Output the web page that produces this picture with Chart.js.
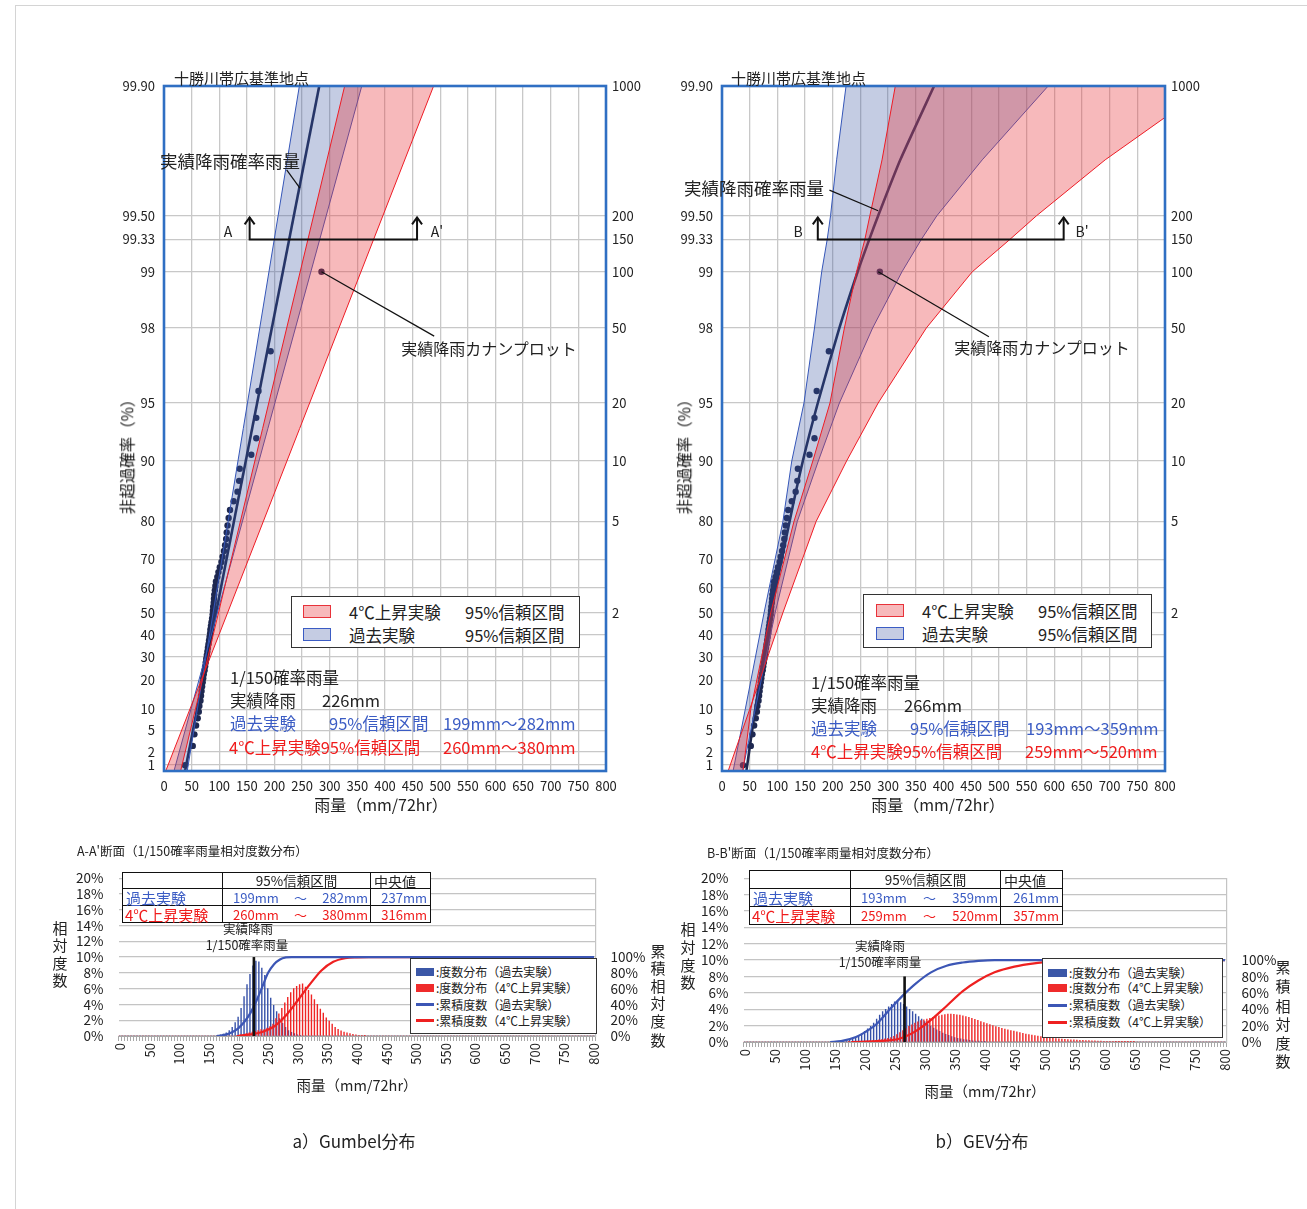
<!DOCTYPE html>
<html lang="ja">
<head>
<meta charset="utf-8">
<title>十勝川帯広基準地点 確率雨量と相対度数分布</title>
<script src="https://cdn.jsdelivr.net/npm/chart.js@4.4.1/dist/chart.umd.min.js"></script>
<style>
  html, body { margin: 0; padding: 0; background: #fff; }
  body { position: relative; width: 1307px; height: 1209px; overflow: hidden;
         font-family: "Noto Sans CJK JP", "Noto Sans", sans-serif; color: #222; }
  .frame { position: absolute; left: 15px; top: 5px; right: 0; bottom: 0;
           border-left: 1px solid #d4d4d4; border-top: 1px solid #d4d4d4; }
  canvas { position: absolute; }
  .t { position: absolute; white-space: nowrap; line-height: 1; transform: translateY(-50%); }
  .c { transform: translate(-50%, -50%); }
  .rot { transform: translate(-50%, -50%) rotate(-90deg); }
  .blue { color: #3b5cc4; }
  .red { color: #f01c1c; }
  .legend { position: absolute; background: #fff; border: 1.5px solid #333; box-sizing: border-box; }
  .sw { position: absolute; box-sizing: border-box; }
  table.tb { position: absolute; border-collapse: collapse; background: #fff; table-layout: fixed; }
  table.tb td { border: 1.6px solid #111; padding: 0; font-size: 13px; line-height: 1; white-space: nowrap; }
  .rng { display: flex; justify-content: space-between; padding: 0 2px 0 10px; }
  .stack { position: absolute; font-size: 15px; line-height: 1; transform: translate(-50%, -50%); }
</style>
</head>
<body>
<div class="frame"></div>

<canvas id="gumbel" width="560" height="770" style="left:100px;top:60px"></canvas>
<canvas id="gev" width="560" height="770" style="left:658px;top:60px"></canvas>
<canvas id="histA" width="620" height="240" style="left:40px;top:855px"></canvas>
<canvas id="histB" width="640" height="245" style="left:665px;top:855px"></canvas>

<!-- a) Gumbel -->
<div class="t" style="left:174px;top:77px;font-size:15px">十勝川帯広基準地点</div>
<div class="t rot" style="left:127px;top:453px;font-size:15.5px;color:#111">非超過確率（%）</div>
<div class="t c" style="left:381px;top:804px;font-size:16px">雨量（mm/72hr）</div>
<div class="t" style="left:160px;top:161px;font-size:17.5px">実績降雨確率雨量</div>
<div class="t c" style="left:228px;top:231px;font-size:14px">A</div>
<div class="t c" style="left:437px;top:231px;font-size:14px">A'</div>
<div class="t c" style="left:489px;top:348px;font-size:16px">実績降雨カナンプロット</div>
<div class="legend" style="left:291px;top:596px;width:289px;height:52px">
  <div class="sw" style="left:11px;top:8px;width:28px;height:13px;background:#f7b9bb;border:1.2px solid #e8323a"></div>
  <div class="t" style="left:57px;top:15px;font-size:16.5px">4℃上昇実験</div>
  <div class="t" style="left:173px;top:15px;font-size:16.5px">95%信頼区間</div>
  <div class="sw" style="left:11px;top:31px;width:28px;height:13px;background:#c5cce3;border:1.2px solid #3b5cc4"></div>
  <div class="t" style="left:57px;top:38px;font-size:16.5px">過去実験</div>
  <div class="t" style="left:173px;top:38px;font-size:16.5px">95%信頼区間</div>
</div>
<div class="t" style="left:230px;top:677px;font-size:16.5px">1/150確率雨量</div>
<div class="t" style="left:230px;top:700px;font-size:16.5px">実績降雨</div>
<div class="t" style="left:322px;top:700px;font-size:16.5px">226mm</div>
<div class="t blue" style="left:230px;top:723px;font-size:16.5px">過去実験</div>
<div class="t blue" style="left:329px;top:723px;font-size:16.5px">95%信頼区間</div>
<div class="t blue" style="left:443px;top:723px;font-size:16.5px">199mm～282mm</div>
<div class="t red" style="left:229px;top:747px;font-size:16.5px">4℃上昇実験95%信頼区間</div>
<div class="t red" style="left:443px;top:747px;font-size:16.5px">260mm～380mm</div>

<!-- b) GEV -->
<div class="t" style="left:731px;top:77px;font-size:15px">十勝川帯広基準地点</div>
<div class="t rot" style="left:684px;top:453px;font-size:15.5px;color:#111">非超過確率（%）</div>
<div class="t c" style="left:938px;top:804px;font-size:16px">雨量（mm/72hr）</div>
<div class="t" style="left:684px;top:188px;font-size:17.5px">実績降雨確率雨量</div>
<div class="t c" style="left:798px;top:231px;font-size:14px">B</div>
<div class="t c" style="left:1082px;top:231px;font-size:14px">B'</div>
<div class="t c" style="left:1042px;top:347px;font-size:16px">実績降雨カナンプロット</div>
<div class="legend" style="left:863px;top:594px;width:289px;height:54px">
  <div class="sw" style="left:12px;top:9px;width:28px;height:13px;background:#f7b9bb;border:1.2px solid #e8323a"></div>
  <div class="t" style="left:58px;top:16px;font-size:16.5px">4℃上昇実験</div>
  <div class="t" style="left:174px;top:16px;font-size:16.5px">95%信頼区間</div>
  <div class="sw" style="left:12px;top:32px;width:28px;height:13px;background:#c5cce3;border:1.2px solid #3b5cc4"></div>
  <div class="t" style="left:58px;top:39px;font-size:16.5px">過去実験</div>
  <div class="t" style="left:174px;top:39px;font-size:16.5px">95%信頼区間</div>
</div>
<div class="t" style="left:811px;top:682px;font-size:16.5px">1/150確率雨量</div>
<div class="t" style="left:811px;top:705px;font-size:16.5px">実績降雨</div>
<div class="t" style="left:904px;top:705px;font-size:16.5px">266mm</div>
<div class="t blue" style="left:811px;top:728px;font-size:16.5px">過去実験</div>
<div class="t blue" style="left:910px;top:728px;font-size:16.5px">95%信頼区間</div>
<div class="t blue" style="left:1026px;top:728px;font-size:16.5px">193mm～359mm</div>
<div class="t red" style="left:811px;top:751px;font-size:16.5px">4℃上昇実験95%信頼区間</div>
<div class="t red" style="left:1025px;top:751px;font-size:16.5px">259mm～520mm</div>

<!-- A-A' histogram -->
<div class="t" style="left:77px;top:851px;font-size:12.5px">A-A'断面（1/150確率雨量相対度数分布）</div>
<table class="tb" style="left:122px;top:872px;width:308px">
  <colgroup><col style="width:100px"><col style="width:148px"><col style="width:60px"></colgroup>
  <tr style="height:16px"><td></td><td style="text-align:center;font-size:13.5px">95%信頼区間</td><td style="font-size:14px;padding-left:3px">中央値</td></tr>
  <tr style="height:17px" class="blue"><td style="font-size:15px;padding-left:3px">過去実験</td><td><div class="rng"><span>199mm</span><span>～</span><span>282mm</span></div></td><td style="text-align:right;padding-right:3px">237mm</td></tr>
  <tr style="height:17px" class="red"><td style="font-size:15px;padding-left:2px">4℃上昇実験</td><td><div class="rng"><span>260mm</span><span>～</span><span>380mm</span></div></td><td style="text-align:right;padding-right:3px">316mm</td></tr>
</table>
<div class="t c" style="left:248px;top:929px;font-size:12.5px">実績降雨</div>
<div class="t c" style="left:247px;top:945px;font-size:12.5px">1/150確率雨量</div>
<div class="stack" style="left:60px;top:927px">相</div>
<div class="stack" style="left:60px;top:944px">対</div>
<div class="stack" style="left:60px;top:962px">度</div>
<div class="stack" style="left:60px;top:979px">数</div>
<div class="stack" style="left:658px;top:950px">累</div>
<div class="stack" style="left:658px;top:967px">積</div>
<div class="stack" style="left:658px;top:985px">相</div>
<div class="stack" style="left:658px;top:1002px">対</div>
<div class="stack" style="left:658px;top:1020px">度</div>
<div class="stack" style="left:658px;top:1039px">数</div>
<div class="t c" style="left:357px;top:1085px;font-size:14.5px">雨量（mm/72hr）</div>
<div class="legend" style="left:410px;top:958px;width:187px;height:76px;border-width:1.3px">
  <div class="sw" style="left:5px;top:9px;width:18px;height:8px;background:#3b57a7"></div>
  <div class="t" style="left:25px;top:13px;font-size:12px">:度数分布（過去実験）</div>
  <div class="sw" style="left:5px;top:25px;width:18px;height:8px;background:#ef2b2b"></div>
  <div class="t" style="left:25px;top:29px;font-size:12px">:度数分布（4℃上昇実験）</div>
  <div class="sw" style="left:5px;top:44px;width:18px;height:3px;background:#3c56b5"></div>
  <div class="t" style="left:25px;top:46px;font-size:12px">:累積度数（過去実験）</div>
  <div class="sw" style="left:5px;top:60px;width:18px;height:3px;background:#ee2020"></div>
  <div class="t" style="left:25px;top:62px;font-size:12px">:累積度数（4℃上昇実験）</div>
</div>

<!-- B-B' histogram -->
<div class="t" style="left:707px;top:853px;font-size:12.5px">B-B'断面（1/150確率雨量相対度数分布）</div>
<table class="tb" style="left:749px;top:870px;width:313px">
  <colgroup><col style="width:101px"><col style="width:150px"><col style="width:62px"></colgroup>
  <tr style="height:18px"><td></td><td style="text-align:center;font-size:13.5px">95%信頼区間</td><td style="font-size:14px;padding-left:3px">中央値</td></tr>
  <tr style="height:18px" class="blue"><td style="font-size:15px;padding-left:3px">過去実験</td><td><div class="rng"><span>193mm</span><span>～</span><span>359mm</span></div></td><td style="text-align:right;padding-right:3px">261mm</td></tr>
  <tr style="height:18px" class="red"><td style="font-size:15px;padding-left:2px">4℃上昇実験</td><td><div class="rng"><span>259mm</span><span>～</span><span>520mm</span></div></td><td style="text-align:right;padding-right:3px">357mm</td></tr>
</table>
<div class="t c" style="left:880px;top:946px;font-size:12.5px">実績降雨</div>
<div class="t c" style="left:880px;top:962px;font-size:12.5px">1/150確率雨量</div>
<div class="stack" style="left:688px;top:928px">相</div>
<div class="stack" style="left:688px;top:946px">対</div>
<div class="stack" style="left:688px;top:964px">度</div>
<div class="stack" style="left:688px;top:981px">数</div>
<div class="stack" style="left:1283px;top:966px">累</div>
<div class="stack" style="left:1283px;top:985px">積</div>
<div class="stack" style="left:1283px;top:1005px">相</div>
<div class="stack" style="left:1283px;top:1023px">対</div>
<div class="stack" style="left:1283px;top:1042px">度</div>
<div class="stack" style="left:1283px;top:1060px">数</div>
<div class="t c" style="left:985px;top:1091px;font-size:14.5px">雨量（mm/72hr）</div>
<div class="legend" style="left:1042px;top:958px;width:181px;height:80px;border-width:1.3px">
  <div class="sw" style="left:5px;top:10px;width:19px;height:8px;background:#3b57a7"></div>
  <div class="t" style="left:26px;top:14px;font-size:12px">:度数分布（過去実験）</div>
  <div class="sw" style="left:5px;top:25px;width:19px;height:8px;background:#ef2b2b"></div>
  <div class="t" style="left:26px;top:29px;font-size:12px">:度数分布（4℃上昇実験）</div>
  <div class="sw" style="left:5px;top:45px;width:19px;height:3px;background:#3c56b5"></div>
  <div class="t" style="left:26px;top:46px;font-size:12px">:累積度数（過去実験）</div>
  <div class="sw" style="left:5px;top:62px;width:19px;height:3px;background:#ee2020"></div>
  <div class="t" style="left:26px;top:63px;font-size:12px">:累積度数（4℃上昇実験）</div>
</div>

<div class="t c" style="left:354px;top:1140px;font-size:17px">a）Gumbel分布</div>
<div class="t c" style="left:982px;top:1140px;font-size:17px">b）GEV分布</div>

<script>
// === 1. DATA ===
// probability axis (non-exceedance %, Gumbel paper) and return period labels
const probTicks = [99.9, 99.5, 99.33, 99, 98, 95, 90, 80, 70, 60, 50, 40, 30, 20, 10, 5, 2, 1];
const probLabels = ['99.90', '99.50', '99.33', '99', '98', '95', '90', '80', '70', '60', '50', '40', '30', '20', '10', '5', '2', '1'];
const returnP = [99.9, 99.5, 99.33, 99, 98, 95, 90, 80, 50];
const returnLabels = ['1000', '200', '150', '100', '50', '20', '10', '5', '2'];

// observed annual max rainfall (mm/72hr) with Cunnane plotting positions (%)
const obsP = [1.0, 2.66, 4.32, 5.98, 7.64, 9.30, 10.96, 12.62, 14.29, 15.95,
  17.61, 19.27, 20.93, 22.59, 24.25, 25.91, 27.57, 29.24, 30.90, 32.56,
  34.22, 35.88, 37.54, 39.20, 40.86, 42.52, 44.19, 45.85, 47.51, 49.17,
  50.83, 52.49, 54.15, 55.81, 57.48, 59.14, 60.80, 62.46, 64.12, 65.78,
  67.44, 69.10, 70.76, 72.43, 74.09, 75.75, 77.41, 79.07, 80.73, 82.39,
  84.05, 85.71, 87.38, 89.04, 90.70, 92.36, 94.02, 95.68, 97.34, 99.0];
const obsRain = [38, 52, 55, 58, 61, 63, 64, 66, 67, 68,
  69, 70, 71, 72, 73.5, 74.5, 75.5, 76.5, 77.5, 78.5,
  79.5, 80.5, 81.5, 82.5, 83.5, 84, 85, 86, 87, 88,
  88.5, 89, 90, 90.5, 91, 92, 93, 94, 96.5, 98.5,
  101, 104, 106, 108.5, 110.5, 112.5, 113.5, 115, 117, 119.5,
  126, 133, 136, 137, 158, 167, 167, 171, 193, 285];

// a) Gumbel: straight lines on Gumbel paper, given at the bottom and top of the axis
const gumP = [0.7, 99.9];
const gumFit = [38, 281];
const gumPastA = [42, 245];
const gumPastB = [18, 358];
const gumWarmA = [30, 327];
const gumWarmB = [3, 488];

// b) GEV: curved lines
const gevP = [0.7, 10, 50, 80, 90, 95, 98, 99, 99.33, 99.5, 99.75, 99.9];
const gevFit = [44, 60, 89, 122, 146, 173, 212, 245, 266, 282, 322, 383];
const gevPastA = [20, 42, 76, 110, 126, 148, 167, 180, 190, 196, 207, 224];
const gevPastB = [37, 60, 96, 136, 174, 212, 272, 325, 360, 388, 470, 589];
const gevWarmA = [38, 52, 88, 130, 164, 195, 221, 243, 258, 267, 289, 313];
const gevWarmB = [11, 50, 110, 170, 225, 282, 369, 452, 520, 568, 692, 880];

// relative frequency (%) per 5 mm bin, starting at the given bin
const aaPastStart = 165;
const aaPastFreq = [0.1, 0.15, 0.25, 0.4, 0.7, 1.1, 1.7, 2.4, 3.5, 5.0, 6.5, 7.8, 8.9, 9.5, 9.4,
  8.6, 7.7, 6.0, 4.8, 3.9, 3.1, 2.2, 1.6, 1.1, 0.7, 0.45, 0.3, 0.15, 0.1];
const aaWarmStart = 200;
const aaWarmFreq = [0.1, 0.15, 0.2, 0.3, 0.4, 0.5, 0.6, 0.7, 0.8, 0.8, 1.0, 1.2, 1.5, 2.2, 2.8,
  3.5, 4.2, 4.9, 5.5, 6.0, 6.3, 6.5, 6.6, 6.2, 5.8, 5.2, 4.6, 4.0, 3.4, 2.9,
  2.3, 1.9, 1.5, 1.1, 0.85, 0.65, 0.5, 0.4, 0.3, 0.2, 0.15, 0.1, 0.08, 0.05];
const bbPastStart = 150;
const bbPastFreq = [0.05, 0.08, 0.1, 0.15, 0.2, 0.3, 0.4, 0.55, 0.75, 1.0, 1.3, 1.6, 1.9, 2.3, 2.8,
  3.3, 3.7, 4.0, 4.3, 4.6, 4.9, 5.0, 4.8, 4.6, 4.3, 4.0, 3.7, 3.4, 3.1, 2.8,
  2.5, 2.2, 1.95, 1.7, 1.5, 1.3, 1.1, 0.95, 0.8, 0.65, 0.55, 0.45, 0.38, 0.3, 0.25,
  0.2, 0.15, 0.12, 0.1, 0.08, 0.05];
const bbWarmStart = 175;
const bbWarmFreq = [0.02, 0.03, 0.04, 0.05, 0.07, 0.09, 0.11, 0.14, 0.17, 0.2, 0.25, 0.3, 0.38, 0.45, 0.55,
  0.7, 0.9, 1.15, 1.4, 1.65, 1.9, 2.1, 2.3, 2.45, 2.6, 2.7, 2.8, 2.9, 3.0, 3.1,
  3.2, 3.28, 3.35, 3.4, 3.4, 3.37, 3.33, 3.28, 3.2, 3.1, 3.0, 2.9, 2.78, 2.65, 2.5,
  2.38, 2.25, 2.12, 2.0, 1.88, 1.78, 1.68, 1.58, 1.5, 1.4, 1.32, 1.24, 1.15, 1.06, 0.98,
  0.9, 0.83, 0.77, 0.71, 0.65, 0.6, 0.55, 0.5, 0.46, 0.42, 0.39, 0.36, 0.33, 0.3, 0.27,
  0.25, 0.23, 0.21, 0.2, 0.18, 0.16, 0.15, 0.13, 0.12, 0.1, 0.09, 0.08, 0.07, 0.06, 0.05,
  0.05, 0.04, 0.04, 0.03, 0.03, 0.02];

// cumulative relative frequency (%)
const aaPastCumX = [163, 170, 180, 190, 200, 210, 220, 230, 240, 250, 260, 270, 280, 290, 800];
const aaPastCumY = [0, 0.5, 2, 5, 10, 18, 29, 44, 62, 80, 91, 97, 99.5, 100, 100];
const aaWarmCumX = [197, 210, 220, 240, 260, 280, 300, 320, 340, 360, 380, 400, 420, 800];
const aaWarmCumY = [0, 1, 2, 5, 12, 26, 45, 65, 83, 94, 98.5, 99.7, 100, 100];
const bbPastCumX = [142, 160, 185, 200, 218, 244, 262, 284, 310, 336, 363, 389, 416, 800];
const bbPastCumY = [0, 1, 6, 12, 21, 42, 56, 71, 85, 93, 97, 99, 100, 100];
const bbWarmCumX = [178, 220, 257, 284, 310, 336, 363, 389, 416, 449, 482, 515, 548, 613, 800];
const bbWarmCumY = [0, 1, 4, 13, 27, 44, 62, 75, 85, 92, 96, 98, 99, 100, 100];

// 1/150 rainfall of the actual event (mm/72hr)
const rainA = 226;
const rainB = 266;

// === 2. HELPERS ===
const FONT = '"Noto Sans CJK JP", "Noto Sans", sans-serif';
Chart.defaults.font.family = FONT;
Chart.defaults.color = '#222';
const NAVY = '#1e2850';
const FRAME = '#2f6fc3';

// Gumbel reduced variate for the probability paper
const gy = p => -Math.log(-Math.log(p / 100));
const Y_MIN = -1.6;
const Y_MAX = gy(99.9);

const curve = (p, xs) => p.map((v, i) => ({ x: xs[i], y: gy(v) }));
function band(p, a, b) {
  const pts = curve(p, a);
  for (let i = p.length - 1; i >= 0; i--) pts.push({ x: b[i], y: gy(p[i]) });
  return pts;
}

// 5 mm bins 0..800
const histBins = [];
for (let b = 0; b <= 800; b += 5) histBins.push(b);
const padBins = (start, vals) => histBins.map(b => {
  const i = (b - start) / 5;
  return i >= 0 && i < vals.length ? vals[i] : 0;
});
const cumLine = (xs, ys) => xs.map((x, i) => ({ x, y: ys[i] }));

// === 3. PROBABILITY PLOTS ===
function probDecor(cfg) {
  return {
    id: 'probDecor',
    afterDatasetsDraw(chart) {
      const { ctx, chartArea: a, scales: { x, y } } = chart;
      const X = v => x.getPixelForValue(v);
      const Y = p => y.getPixelForValue(gy(p));
      ctx.save();
      ctx.strokeStyle = '#111';
      ctx.lineWidth = 1.2;
      cfg.leaders.forEach(l => {
        ctx.beginPath();
        ctx.moveTo(X(l[0]), Y(l[1]));
        ctx.lineTo(X(l[2]), Y(l[3]));
        ctx.stroke();
      });
      // section line (A-A' / B-B')
      ctx.lineWidth = 2;
      const yb = Y(cfg.section.p), yt = Y(cfg.section.topP);
      const x1 = X(cfg.section.x[0]), x2 = X(cfg.section.x[1]);
      ctx.beginPath();
      ctx.moveTo(x1, yt); ctx.lineTo(x1, yb); ctx.lineTo(x2, yb); ctx.lineTo(x2, yt);
      ctx.stroke();
      [x1, x2].forEach(xx => {
        ctx.beginPath();
        ctx.moveTo(xx - 5, yt + 7); ctx.lineTo(xx, yt); ctx.lineTo(xx + 5, yt + 7);
        ctx.stroke();
      });
      ctx.strokeStyle = FRAME;
      ctx.lineWidth = 2.6;
      ctx.strokeRect(a.left, a.top, a.right - a.left, a.bottom - a.top);
      ctx.restore();
    }
  };
}

function probChart(id, p, fit, pastA, pastB, warmA, warmB, rightW, fitTension, decor) {
  const tickFont = { size: 13, family: FONT };
  return new Chart(document.getElementById(id), {
    type: 'line',
    data: {
      datasets: [
        { label: '実績降雨確率雨量', data: curve(p, fit), borderColor: NAVY, borderWidth: 2.6,
          pointRadius: 0, tension: fitTension, order: 3, clip: 0 },
        { label: '実績降雨カナンプロット', data: curve(obsP, obsRain), showLine: false,
          pointRadius: 3.2, pointBackgroundColor: NAVY, pointBorderWidth: 0, order: 2 },
        { label: '過去実験 95%信頼区間', data: band(p, pastA, pastB), fill: 'shape',
          backgroundColor: 'rgba(61,85,162,0.3)', borderColor: '#3556b8', borderWidth: 1,
          pointRadius: 0, order: 1, clip: 0 },
        { label: '4℃上昇実験 95%信頼区間', data: band(p, warmA, warmB), fill: 'shape',
          backgroundColor: 'rgba(232,55,61,0.35)', borderColor: '#ee1c25', borderWidth: 1,
          pointRadius: 0, order: 0, clip: 0 }
      ]
    },
    options: {
      responsive: false,
      animation: false,
      events: [],
      layout: { padding: { top: 26, left: 0, right: 0, bottom: 0 }, autoPadding: false },
      plugins: { legend: { display: false }, tooltip: { enabled: false } },
      scales: {
        x: {
          type: 'linear', min: 0, max: 800,
          afterFit: s => { s.height = 59; },
          ticks: { stepSize: 50, autoSkip: false, maxRotation: 0, padding: 7, font: tickFont },
          grid: { color: '#c8c8c8', lineWidth: 1.3, drawTicks: false },
          border: { display: false }
        },
        y: {
          type: 'linear', min: Y_MIN, max: Y_MAX,
          afterFit: s => { s.width = 64; },
          afterBuildTicks: ax => { ax.ticks = probTicks.map(v => ({ value: gy(v) })); },
          ticks: { autoSkip: false, padding: 9, font: tickFont, callback: (v, i) => probLabels[i] },
          grid: { color: '#c8c8c8', lineWidth: 1.3, drawTicks: false },
          border: { display: false }
        },
        y2: {
          type: 'linear', position: 'right', min: Y_MIN, max: Y_MAX,
          afterFit: s => { s.width = rightW; },
          afterBuildTicks: ax => { ax.ticks = returnP.map(v => ({ value: gy(v) })); },
          ticks: { autoSkip: false, padding: 6, font: tickFont, callback: (v, i) => returnLabels[i] },
          grid: { display: false, drawTicks: false },
          border: { display: false }
        }
      }
    },
    plugins: [decor]
  });
}

probChart('gumbel', gumP, gumFit, gumPastA, gumPastB, gumWarmA, gumWarmB, 54, 0, probDecor({
  leaders: [[222, 99.717, 246, 99.645], [285, 99.0, 489, 97.79]],
  section: { p: 99.33, topP: 99.49, x: [155, 458] }
}));
probChart('gev', gevP, gevFit, gevPastA, gevPastB, gevWarmA, gevWarmB, 53, 0.2, probDecor({
  leaders: [[194, 99.636, 282, 99.53], [282, 99.0, 482, 97.77]],
  section: { p: 99.33, topP: 99.49, x: [173, 617] }
}));

// === 4. RELATIVE FREQUENCY HISTOGRAMS ===
function histDecor(cfg) {
  return {
    id: 'histDecor',
    afterDatasetsDraw(chart) {
      const { ctx, scales: { xl, y } } = chart;
      const xx = xl.getPixelForValue(cfg.rain);
      ctx.save();
      ctx.strokeStyle = '#111';
      ctx.lineWidth = 2.6;
      ctx.beginPath();
      ctx.moveTo(xx, y.getPixelForValue(0));
      ctx.lineTo(xx, y.getPixelForValue(cfg.top));
      ctx.stroke();
      ctx.restore();
    }
  };
}

function histChart(id, pastFreq, warmFreq, pastCum, warmCum, axisH, rightW, decor) {
  const tickFont = { size: 13, family: FONT };
  return new Chart(document.getElementById(id), {
    type: 'bar',
    data: {
      labels: histBins,
      datasets: [
        { label: '度数分布（過去実験）', data: pastFreq, backgroundColor: '#3550a8',
          barPercentage: 1, categoryPercentage: 1, order: 4 },
        { label: '度数分布（4℃上昇実験）', data: warmFreq, backgroundColor: '#ef2424',
          barPercentage: 1, categoryPercentage: 1, order: 3 },
        { type: 'line', label: '累積度数（4℃上昇実験）', data: warmCum, xAxisID: 'xl', yAxisID: 'y2',
          borderColor: '#ee2020', borderWidth: 2.2, pointRadius: 0, cubicInterpolationMode: 'monotone', order: 2 },
        { type: 'line', label: '累積度数（過去実験）', data: pastCum, xAxisID: 'xl', yAxisID: 'y2',
          borderColor: '#3c56b5', borderWidth: 2.2, pointRadius: 0, cubicInterpolationMode: 'monotone', order: 1 }
      ]
    },
    options: {
      responsive: false,
      animation: false,
      events: [],
      layout: { padding: { top: 12, left: 0, right: 0, bottom: 0 }, autoPadding: false },
      plugins: { legend: { display: false }, tooltip: { enabled: false } },
      scales: {
        x: {
          type: 'category', offset: true,
          afterFit: s => { s.height = axisH; },
          ticks: { autoSkip: false, minRotation: 90, maxRotation: 90, padding: 2, font: tickFont,
                   callback: (v, i) => (histBins[i] % 50 === 0 ? String(histBins[i]) : '') },
          grid: { drawOnChartArea: false, drawTicks: true, tickLength: 5, color: '#a8a8a8', offset: true },
          border: { display: true, color: '#a8a8a8' }
        },
        xl: { type: 'linear', display: false, offset: false, grid: { offset: false }, min: -2.5, max: 802.5 },
        y: {
          min: 0, max: 20,
          afterFit: s => { s.width = 78.5; },
          ticks: { stepSize: 2, autoSkip: false, padding: 15, font: { size: 13.5, family: FONT }, callback: v => v + '%' },
          grid: { color: '#c4c4c4', lineWidth: 1.2, drawTicks: false },
          border: { display: false }
        },
        y2: {
          position: 'right', min: 0, max: 200,
          afterFit: s => { s.width = rightW; },
          afterBuildTicks: ax => { ax.ticks = [0, 20, 40, 60, 80, 100].map(v => ({ value: v })); },
          ticks: { autoSkip: false, padding: 15, font: { size: 13.5, family: FONT }, callback: v => v + '%' },
          grid: { display: false, drawTicks: false },
          border: { display: true, color: '#c4c4c4', width: 1.2 }
        }
      }
    },
    plugins: [decor]
  });
}

histChart('histA', padBins(aaPastStart, aaPastFreq), padBins(aaWarmStart, aaWarmFreq),
  cumLine(aaPastCumX, aaPastCumY), cumLine(aaWarmCumX, aaWarmCumY), 59, 64.5,
  histDecor({ rain: rainA, top: 10 }));
histChart('histB', padBins(bbPastStart, bbPastFreq), padBins(bbWarmStart, bbWarmFreq),
  cumLine(bbPastCumX, bbPastCumY), cumLine(bbWarmCumX, bbWarmCumY), 58, 78.5,
  histDecor({ rain: rainB, top: 8 }));
</script>
</body>
</html>
